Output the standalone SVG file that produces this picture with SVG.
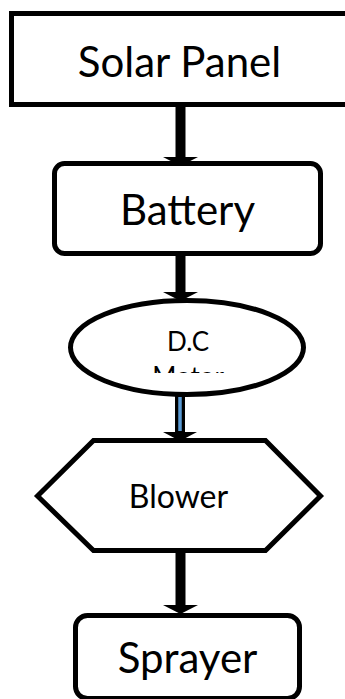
<svg xmlns="http://www.w3.org/2000/svg" width="345" height="699" viewBox="0 0 345 699">
  <style>
    .shape { fill: #ffffff; stroke: #000000; stroke-width: 5; }
    .big { font-family: Lato, "Open Sans", "Liberation Sans", sans-serif; font-size: 42px; fill: #000000; text-anchor: middle; }
    .mid { font-family: Lato, "Open Sans", "Liberation Sans", sans-serif; font-size: 32px; fill: #000000; text-anchor: middle; }
    .small { font-family: Lato, "Open Sans", "Liberation Sans", sans-serif; font-size: 26px; fill: #000000; text-anchor: middle; }
    .shaft { stroke: #000000; stroke-width: 10; fill: none; }
    .head { fill: #000000; stroke: none; }
  </style>
  <defs>
    <clipPath id="motorClip">
      <rect x="60" y="300" width="260" height="73"/>
    </clipPath>
  </defs>
  <rect width="345" height="699" fill="#ffffff"/>

  <g id="connectors">
    <g id="c1">
      <line class="shaft" x1="180.5" y1="106" x2="180.5" y2="158"/>
      <polygon class="head" points="163,157 198,157 180.5,166"/>
    </g>
    <g id="c2">
      <line class="shaft" x1="180.5" y1="255" x2="180.5" y2="293"/>
      <polygon class="head" points="163,292 198,292 180.5,301"/>
    </g>
    <g id="c3">
      <line class="shaft" x1="180" y1="396" x2="180" y2="433"/>
      <line x1="180" y1="397" x2="180" y2="431" stroke="#5b9bd5" stroke-width="3.5"/>
      <polygon class="head" points="163,432 197,432 180,441"/>
    </g>
    <g id="c4">
      <line class="shaft" x1="180.5" y1="552" x2="180.5" y2="606"/>
      <polygon class="head" points="163,605 198,605 180.5,614"/>
    </g>
  </g>

  <g id="solar-panel">
    <rect class="shape" x="11.5" y="13.5" width="345" height="91"/>
    <text class="big" x="179.5" y="77">Solar Panel</text>
  </g>

  <g id="battery">
    <rect class="shape" x="54.5" y="163.5" width="266" height="90" rx="10" ry="10"/>
    <text class="big" x="187.5" y="225">Battery</text>
  </g>

  <g id="dc-motor">
    <ellipse class="shape" cx="187" cy="347.5" rx="116.5" ry="47"/>
    <g clip-path="url(#motorClip)">
      <text class="small" x="188" y="351">D.C</text>
      <text class="small" x="188" y="385.5">Motor</text>
    </g>
  </g>

  <g id="blower">
    <polygon class="shape" points="93.5,440.5 265.5,440.5 320.5,496 265.5,550.5 93.5,550.5 37.5,496"/>
    <text class="mid" x="178.5" y="508">Blower</text>
  </g>

  <g id="sprayer">
    <rect class="shape" x="75.5" y="615.5" width="224" height="83" rx="12" ry="12"/>
    <text class="big" x="187.5" y="673">Sprayer</text>
  </g>
</svg>
